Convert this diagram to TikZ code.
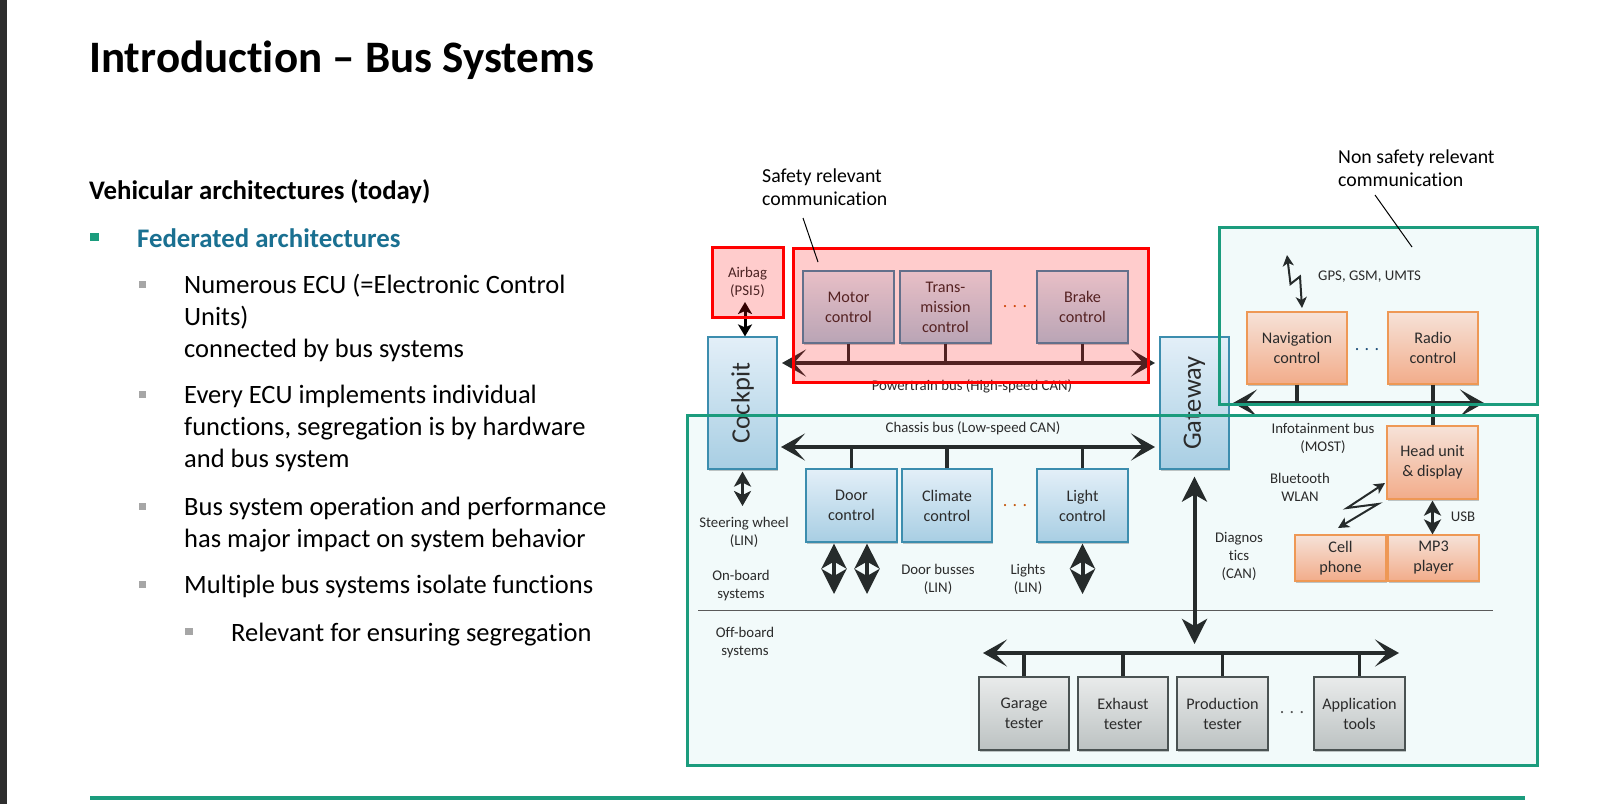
\documentclass[tikz,border=0pt]{standalone}
\usepackage{fontspec}
\usepackage{graphicx}
\setmainfont{Carlito}[Ligatures={TeX,NoCommon}]
\usetikzlibrary{arrows.meta,shadows}
\definecolor{grn}{HTML}{1B9C7D}
\definecolor{teal2}{HTML}{1A7091}
\definecolor{ink}{HTML}{262B2B}
\definecolor{txt}{HTML}{2B2B2B}
\definecolor{bluetop}{HTML}{E3EFF8}
\definecolor{bluebot}{HTML}{A8CEE3}
\definecolor{blueedge}{HTML}{3C8DAE}
\definecolor{orgtop}{HTML}{F6E2D8}
\definecolor{orgbot}{HTML}{F2AC8A}
\definecolor{orgedge}{HTML}{EE9855}
\definecolor{graytop}{HTML}{E9EBEB}
\definecolor{graybot}{HTML}{BCC2C2}
\definecolor{grayedge}{HTML}{4A5252}
\definecolor{paleg}{HTML}{F2FAFA}
\definecolor{bulgray}{HTML}{A6A6A6}
\definecolor{leftbar}{HTML}{2E2E2E}
\definecolor{airtxt}{HTML}{4A2222}
\definecolor{dotor}{HTML}{C55A11}
\definecolor{dotbl}{HTML}{1F4E79}
\definecolor{dotgr}{HTML}{555555}
\definecolor{sepc}{HTML}{5A5A5A}
\newcommand{\lstr}{\rule{0pt}{1em}}
\begin{document}
\begin{tikzpicture}[x=1pt,y=-1pt,
  ecu/.style={draw, line width=1.2pt, inner sep=0pt, align=center, text=txt,
    font=\fontsize{16.2}{20}\selectfont,
    drop shadow={shadow xshift=1.2pt, shadow yshift=-1.5pt, opacity=0.22, fill=black}},
  bluebox/.style={ecu, draw=blueedge, top color=bluetop, bottom color=bluebot},
  orgbox/.style={ecu, draw=orgedge, top color=orgtop, bottom color=orgbot},
  graybox/.style={ecu, draw=grayedge, top color=graytop, bottom color=graybot},
  busline/.style={draw=ink, line width=4.5pt,
    arrows={Stealth[length=24pt,width=27pt,inset=12pt]-Stealth[length=24pt,width=27pt,inset=12pt]}},
  stub/.style={draw=ink, line width=3.5pt},
  dblbig/.style={draw=ink, line width=4pt,
    arrows={Stealth[length=25pt,width=25pt,inset=7pt]-Stealth[length=25pt,width=25pt,inset=7pt]}},
  dblmid/.style={draw=ink, line width=3.5pt,
    arrows={Stealth[length=15pt,width=17pt,inset=4pt]-Stealth[length=15pt,width=17pt,inset=4pt]}},
  dbltiny/.style={draw=black, line width=3pt,
    arrows={Stealth[length=12pt,width=14pt,inset=3pt]-Stealth[length=12pt,width=14pt,inset=3pt]}},
  zig/.style={draw=ink, line width=2pt, line join=miter,
    arrows={Stealth[length=11pt,width=11pt,inset=3pt]-Stealth[length=11pt,width=11pt,inset=3pt]}},
  lbl/.style={inner sep=0pt, align=center, text=txt, font=\fontsize{14.8}{18}\selectfont},
  callout/.style={inner sep=0pt, align=left, anchor=north west, text=black, font=\fontsize{19.8}{23.5}\selectfont},
  dots/.style={inner sep=0pt, font=\fontsize{18}{20}\selectfont},
  greenframe/.style={draw=grn, line width=3pt},
  redzone/.style={draw=red, line width=3pt, fill=red, fill opacity=0.2},
  body/.style={anchor=north west, inner sep=0pt, align=left, text=black, font=\fontsize{26.5}{32}\selectfont},
  leader/.style={draw=black, line width=1pt}
]
\useasboundingbox (0,0) rectangle (1603,804);
\fill[white] (0,0) rectangle (1603,804);
\fill[leftbar] (0,0) rectangle (7,804);

% ---------- left text ----------
\node[anchor=base west, inner sep=0pt, font=\fontsize{45}{50}\selectfont\bfseries] (title) at (89,72) {Introduction – Bus Systems};
\node[anchor=base west, inner sep=0pt, font=\fontsize{26.8}{32}\selectfont\bfseries] (sub) at (89,199) {Vehicular architectures (today)};
\fill[grn] (90,233) rectangle (98.5,241);
\node[anchor=base west, inner sep=0pt, text=teal2, font=\fontsize{26.8}{32}\selectfont\bfseries] (fed) at (137,247) {Federated architectures};
\fill[bulgray] (139,281) rectangle (146,288);
\node[body] (b1) at (184,266.5) {\lstr Numerous ECU (=Electronic Control\\Units)\\connected by bus systems};
\fill[bulgray] (139,391) rectangle (146,398);
\node[body] (b2) at (184,376.5) {\lstr Every ECU implements individual\\functions, segregation is by hardware\\and bus system};
\fill[bulgray] (139,503) rectangle (146,510);
\node[body] (b3) at (184,488.5) {\lstr Bus system operation and performance\\has major impact on system behavior};
\fill[bulgray] (139,581) rectangle (146,588);
\node[body] (b4) at (184,566.5) {\lstr Multiple bus systems isolate functions};
\fill[bulgray] (185,628) rectangle (193,635);
\node[body] (b5) at (231,614.5) {\lstr Relevant for ensuring segregation};

% ---------- zone fills ----------
\fill[paleg] (687,415) rectangle (1537,765);
\fill[paleg] (1219,227) rectangle (1537,404);
\draw[sepc, line width=1pt] (698,610) -- (1493,610);

% ---------- ECU boxes ----------
\node[bluebox, minimum width=69pt, minimum height=132pt] (cockpit) at (742.5,403) {\rotatebox{90}{\fontsize{26.5}{30}\selectfont Cockpit}};
\node[bluebox, minimum width=69pt, minimum height=132pt] (gateway) at (1194.5,403) {\rotatebox{90}{\fontsize{26.5}{30}\selectfont Gateway}};
\node[bluebox, minimum width=91pt, minimum height=72pt] (motor) at (848.5,307) {Motor\\control};
\node[bluebox, minimum width=91pt, minimum height=72pt] (trans) at (945.5,307) {Trans-\\mission\\control};
\node[bluebox, minimum width=91pt, minimum height=72pt] (brake) at (1082.5,307) {Brake\\control};
\node[bluebox, minimum width=91pt, minimum height=73pt] (door) at (851.5,505.5) {Door\\control};
\node[bluebox, minimum width=90pt, minimum height=73pt] (climate) at (947,505.5) {Climate\\control};
\node[bluebox, minimum width=91pt, minimum height=73pt] (light) at (1082.5,505.5) {Light\\control};
\node[orgbox, minimum width=100pt, minimum height=72pt] (nav) at (1297,348) {Navigation\\control};
\node[orgbox, minimum width=90pt, minimum height=72pt] (radio) at (1433,348) {Radio\\control};
\node[orgbox, minimum width=91pt, minimum height=73pt] (head) at (1432.5,462.5) {Head unit\\\& display};
\node[orgbox, minimum width=91pt, minimum height=46pt] (cell) at (1340.5,558) {Cell\\phone};
\node[orgbox, minimum width=91pt, minimum height=46pt] (mp3) at (1433.5,558) {MP3\\player};
\node[graybox, minimum width=90pt, minimum height=73pt] (garage) at (1024,713.5) {Garage\\tester};
\node[graybox, minimum width=90pt, minimum height=73pt] (exhaust) at (1123,713.5) {Exhaust\\tester};
\node[graybox, minimum width=91pt, minimum height=73pt] (prod) at (1222.5,713.5) {Production\\tester};
\node[graybox, minimum width=91pt, minimum height=73pt] (app) at (1359.5,713.5) {Application\\tools};

% ---------- buses ----------
\coordinate (ptL) at (782,363); \coordinate (ptR) at (1155,363);
\draw[busline] (ptL) -- (ptR);
\foreach \n in {motor,trans,brake} \draw[stub] (\n.south) -- (\n.south |- ptL);
\coordinate (chL) at (781,447); \coordinate (chR) at (1155,447);
\draw[busline] (chL) -- (chR);
\foreach \n in {door,climate,light} \draw[stub] (\n.north) -- (\n.north |- chL);
\coordinate (ifL) at (1233,403); \coordinate (ifR) at (1484,403);
\draw[busline] (ifL) -- (ifR);
\draw[stub] (nav.south) -- (nav.south |- ifL);
\draw[stub] (radio.south) -- (radio.south |- head.north);
\coordinate (obL) at (983,653); \coordinate (obR) at (1399,653);
\draw[busline] (obL) -- (obR);
\foreach \n in {garage,exhaust,prod,app} \draw[stub] (\n.north) -- (\n.north |- obL);

% ---------- point-to-point arrows ----------
\coordinate (abtip) at (745,302);
\draw[dbltiny] (abtip) -- (abtip |- cockpit.north);
\coordinate (stw) at (742.5,506);
\draw[dblmid] ([yshift=-2pt]cockpit.south) -- (stw);
\coordinate (d1) at (834,594); \coordinate (d2) at (867,594);
\draw[dblbig] ([xshift=-17.5pt,yshift=-1pt]door.south) -- (d1);
\draw[dblbig] ([xshift=15.5pt,yshift=-1pt]door.south) -- (d2);
\coordinate (lt) at (1082.5,594);
\draw[dblbig] ([yshift=-1pt]light.south) -- (lt);
\coordinate (dg) at (1194.5,644);
\draw[dblbig] ([yshift=-7pt]gateway.south) -- (dg);
\draw[dblmid] ([yshift=-1pt]head.south) -- (head.south |- mp3.north);
\coordinate (gpsA) at (1287,255); \coordinate (gpsB) at (1302,308);
\draw[zig] (gpsA) -- (1290.5,284) -- (1300,276.5) -- (gpsB);
\coordinate (btA) at (1385,483); \coordinate (btB) at (1338,528);
\draw[zig] (btA) -- (1347,508) -- (1378,504) -- (btB);

% ---------- labels ----------
\node[lbl, anchor=base] (lpt) at (972,390) {Powertrain bus (High-speed CAN)};
\node[lbl, anchor=base] (lch) at (973,432) {Chassis bus (Low-speed CAN)};
\node[lbl, anchor=base west] (lgps) at (1318,280) {GPS, GSM, UMTS};
\node[lbl, anchor=north] (linfo) at (1323,418.2) {\lstr Infotainment bus\\(MOST)};
\node[lbl, anchor=north] (lbt) at (1300,468.2) {\lstr Bluetooth\\WLAN};
\node[lbl, anchor=base] (lusb) at (1463,521) {USB};
\node[lbl, anchor=north] (ldiag) at (1239,527.2) {\lstr Diagnos\\tics\\(CAN)};
\node[lbl, anchor=north] (lsteer) at (744,512.2) {\lstr Steering wheel\\(LIN)};
\node[lbl, anchor=north] (lon) at (741,565.2) {\lstr On-board\\systems};
\node[lbl, anchor=north] (ldoor) at (938,559.2) {\lstr Door busses\\(LIN)};
\node[lbl, anchor=north] (llight) at (1028,559.2) {\lstr Lights\\(LIN)};
\node[lbl, anchor=north] (loff) at (745,622.2) {\lstr Off-board\\systems};
\node[dots, text=dotor] (dt1) at (1015,307) {. . .};
\node[dots, text=dotor] (dt2) at (1015,506) {. . .};
\node[dots, text=dotbl] (dt3) at (1367,350) {. . .};
\node[dots, text=dotgr] (dt4) at (1292,713) {. . .};

% ---------- safety zone overlay ----------
\path[redzone] (793,248) rectangle (1148,382);
\node[redzone, text opacity=1, minimum width=71pt, minimum height=70pt, inner sep=0pt, align=center,
  text=airtxt, font=\fontsize{14.8}{18}\selectfont] (airbag) at (747.5,282) {Airbag\\(PSI5)};

% ---------- non-safety frames ----------
\draw[greenframe] (687,415) rectangle (1537,765);
\draw[greenframe] (1219,227) rectangle (1537,404);

% ---------- callouts ----------
\node[callout] (safe) at (762,162.2) {\lstr Safety relevant\\communication};
\coordinate (sa) at (803,218); \coordinate (sb) at (818,262);
\draw[leader] (sa) -- (sb);
\node[callout] (nonsafe) at (1338,143.2) {\lstr Non safety relevant\\communication};
\coordinate (na) at (1375,195); \coordinate (nb) at (1412,247);
\draw[leader] (na) -- (nb);

% ---------- footer line ----------
\draw[grn, line width=4pt] (90,798) -- (1525,798);
\end{tikzpicture}
\end{document}
